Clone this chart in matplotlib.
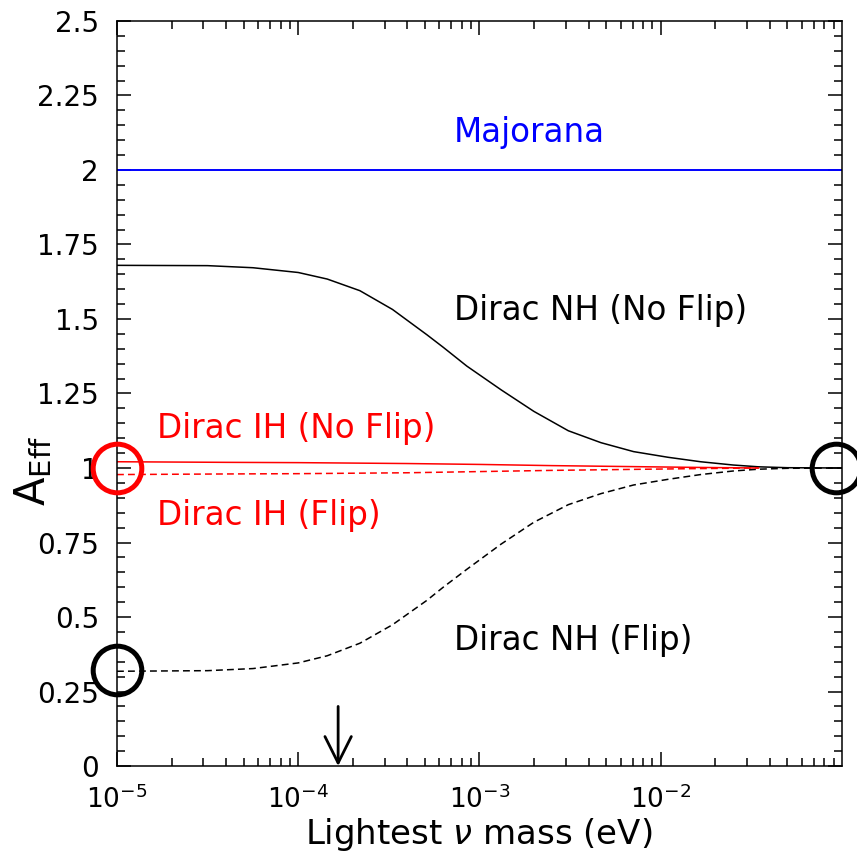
import numpy as np
import matplotlib
matplotlib.use("Agg")
import matplotlib.pyplot as plt

# values (x as log10 of the lightest mass in eV)
log_mass_nh = [-5.0, -4.5, -4.25, -4.0, -3.84, -3.66, -3.48, -3.29, -3.2, -3.07, -2.88,
               -2.70, -2.51, -2.33, -2.15, -1.96, -1.78, -1.60, -1.46, -1.30, -1.0]
nh_noflip = [1.680, 1.679, 1.672, 1.656, 1.634, 1.595, 1.532, 1.447, 1.405, 1.342, 1.262,
             1.190, 1.125, 1.085, 1.055, 1.036, 1.021, 1.010, 1.004, 1.001, 1.000]
nh_flip = [0.318, 0.320, 0.327, 0.346, 0.370, 0.412, 0.474, 0.556, 0.600, 0.660, 0.745,
           0.818, 0.877, 0.914, 0.943, 0.962, 0.978, 0.990, 0.996, 0.999, 1.000]

log_mass_ih = [-5.0, -4.4, -4.0, -3.4, -3.0, -2.6, -2.2, -1.8, -1.46]
ih_noflip = [1.021, 1.019, 1.018, 1.015, 1.012, 1.008, 1.005, 1.002, 1.000]
ih_flip = [0.978, 0.980, 0.981, 0.984, 0.988, 0.992, 0.995, 0.998, 1.000]

majorana_mass = [1e-5, 1e-1]
majorana_val = [2.0, 2.0]

arrow_mass = 1.66e-4
arrow_top = 0.2

# circled points
circle_red = (1e-5, 1.0)
circles_black_x = [1e-5, 0.093]
circles_black_y = [0.322, 1.0]

ytick_vals = [0, 0.25, 0.5, 0.75, 1, 1.25, 1.5, 1.75, 2, 2.25, 2.5]
ytick_labels = ["0", "0.25", "0.5", "0.75", "1", "1.25", "1.5", "1.75", "2", "2.25", "2.5"]
xtick_vals = [1e-5, 1e-4, 1e-3, 1e-2]
xtick_labels = [r"$10^{-5}$", r"$10^{-4}$", r"$10^{-3}$", r"$10^{-2}$"]

m_nh = 10 ** np.array(log_mass_nh)
m_ih = 10 ** np.array(log_mass_ih)

fig = plt.figure(figsize=(8.57, 8.52), dpi=100)
ax = fig.add_axes([0.1365, 0.1009, 0.846, 0.8745])

ax.plot(majorana_mass, majorana_val, color="blue", lw=1.4)
ax.plot(m_nh, nh_noflip, color="black", lw=1.1)
ax.plot(m_nh, nh_flip, color="black", lw=1.1, dashes=(4.5, 2.7))
ax.plot(m_ih, ih_noflip, color="red", lw=1.1)
ax.plot(m_ih, ih_flip, color="red", lw=1.1, dashes=(4.5, 2.7))

ax.plot([circle_red[0]], [circle_red[1]], "o", ms=35, mfc="none", mec="red",
        mew=3.6, clip_on=False, zorder=5)
ax.plot(circles_black_x, circles_black_y, "o", ms=35, mfc="none", mec="black",
        mew=3.6, clip_on=False, zorder=5)

ax.annotate("", xy=(arrow_mass, 0), xytext=(arrow_mass, arrow_top),
            arrowprops=dict(arrowstyle="->,head_length=1.9,head_width=0.95",
                            lw=2, color="black", shrinkA=0, shrinkB=0,
                            mutation_scale=10))

fs = 23.5
ax.text(7.2e-4, 2.094, "Majorana", color="blue", fontsize=fs, ha="left", va="baseline")
ax.text(7.2e-4, 1.497, "Dirac NH (No Flip)", color="black", fontsize=fs, ha="left", va="baseline")
ax.text(7.2e-4, 0.389, "Dirac NH (Flip)", color="black", fontsize=fs, ha="left", va="baseline")
ax.text(1.66e-5, 1.10, "Dirac IH (No Flip)", color="red", fontsize=fs, ha="left", va="baseline")
ax.text(1.66e-5, 0.809, "Dirac IH (Flip)", color="red", fontsize=fs, ha="left", va="baseline")

ax.set_xscale("log")
ax.set_xlim(1e-5, 1e-1)
ax.set_ylim(0, 2.5)
ax.set_xticks(xtick_vals)
ax.set_xticklabels(xtick_labels, fontsize=19)
ax.set_yticks(ytick_vals)
ax.set_yticklabels(ytick_labels, fontsize=20)
ax.set_yticks(np.arange(0, 2.5001, 0.05), minor=True)
ax.xaxis.set_minor_locator(matplotlib.ticker.LogLocator(base=10, subs=np.arange(2, 10), numticks=20))
ax.xaxis.set_minor_formatter(matplotlib.ticker.NullFormatter())
ax.tick_params(which="both", direction="in", top=True, right=True, width=1.1)
ax.tick_params(which="major", length=10)
ax.tick_params(which="minor", length=5.5)
ax.tick_params(axis="y", pad=13)
ax.tick_params(axis="x", pad=14)
for s in ax.spines.values():
    s.set_linewidth(1.1)

fig.text(0.559, 0.021, r"Lightest $\nu$ mass (eV)", fontsize=24.5, ha="center", va="center")
fig.text(0.0385, 0.447, r"$\mathrm{A}_{\mathrm{Eff}}$", fontsize=30, rotation=90,
         ha="center", va="center")

fig.savefig("out.png", dpi=100)
